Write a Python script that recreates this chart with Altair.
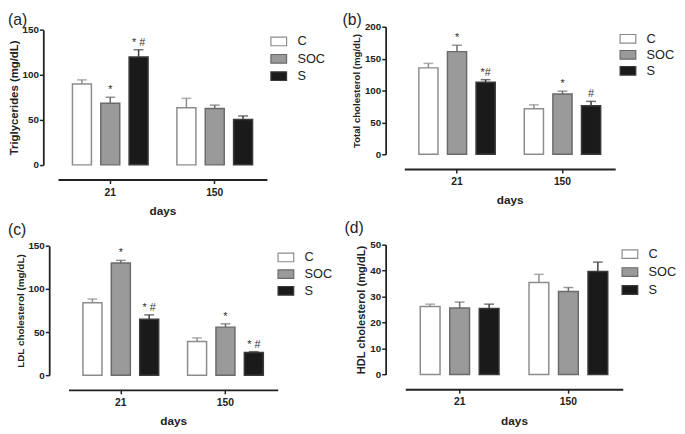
import altair as alt
import pandas as pd

groups = ["C", "SOC", "S"]
days = ["21", "150"]

# (a) Triglycerides
tg_mean_21 = [90, 68.6, 120]
tg_mean_150 = [63.5, 62.8, 50.4]
tg_err_21 = [4.5, 6.6, 8]
tg_err_150 = [10.5, 3.6, 4]
tg_sig_21 = ["", "*", "* #"]
tg_sig_150 = ["", "", ""]

# (b) Total cholesterol
tc_mean_21 = [135.5, 161, 113]
tc_mean_150 = [71.5, 94.5, 76]
tc_err_21 = [7, 10, 4]
tc_err_150 = [6, 4.5, 7]
tc_sig_21 = ["", "*", "*#"]
tc_sig_150 = ["", "*", "#"]

# (c) LDL cholesterol
ldl_mean_21 = [84, 130.3, 65]
ldl_mean_150 = [39, 55.8, 26.2]
ldl_err_21 = [4.5, 3, 5]
ldl_err_150 = [4.3, 3.8, 1.1]
ldl_sig_21 = ["", "*", "* #"]
ldl_sig_150 = ["", "*", "* #"]

# (d) HDL cholesterol
hdl_mean_21 = [26.2, 25.6, 25.4]
hdl_mean_150 = [35.4, 32, 39.7]
hdl_err_21 = [0.9, 2.3, 1.7]
hdl_err_150 = [3.2, 1.5, 3.6]
hdl_sig_21 = ["", "", ""]
hdl_sig_150 = ["", "", ""]

FILLS = ["#ffffff", "#9a9a9a", "#1a1a1a"]
STROKES = ["#8c8c8c", "#6a6a6a", "#3a3a3a"]
FONT = "Liberation Sans"
AX = "#222222"


def make_df(m21, m150, e21, e150, s21, s150):
    rows = []
    for d, ms, es, ss in [("21", m21, e21, s21), ("150", m150, e150, s150)]:
        for g, m, e, s in zip(groups, ms, es, ss):
            rows.append({"day": d, "group": g, "mean": m, "top": m + e, "sig": s})
    return pd.DataFrame(rows)


def panel(df, label, title_dx, title_offset, ytitle, ytitle_size, yvals, width, height,
          yrange, xrange, yoffset, legend_x, legend_y, row_pad):
    ymax = yvals[-1]
    x = alt.X("day:N", sort=days,
              scale=alt.Scale(domain=days, range=xrange, paddingInner=0.2, paddingOuter=0.1),
              axis=alt.Axis(title="days", offset=15, labelAngle=0, domainWidth=2,
                            domainColor=AX, tickColor=AX, tickWidth=1.5, tickSize=4,
                            labelFontSize=10.5, labelFontWeight="bold", labelColor=AX,
                            labelPadding=4, titleFontSize=12, titleFontWeight="bold",
                            titleColor=AX, titlePadding=8))
    xo = alt.XOffset("group:N", sort=groups,
                     scale=alt.Scale(domain=groups, paddingInner=0.33, paddingOuter=0.14))
    yscale = alt.Scale(domain=[0, ymax], range=yrange, nice=False, zero=True)
    yaxis = alt.Axis(values=yvals, grid=False, domainWidth=1.8, domainColor=AX,
                     tickColor=AX, tickWidth=1.5, tickSize=4, labelFontSize=10,
                     labelFontWeight="bold", labelColor=AX, labelPadding=1,
                     title=ytitle, titleFontSize=ytitle_size, titleFontWeight="bold",
                     titleColor=AX, titlePadding=3, offset=yoffset)
    base = alt.Chart(df)
    bars = base.mark_bar(strokeWidth=1.5).encode(
        x=x, xOffset=xo,
        y=alt.Y("mean:Q", scale=yscale, axis=yaxis),
        fill=alt.Fill("group:N", sort=groups,
                      scale=alt.Scale(domain=groups, range=FILLS),
                      legend=alt.Legend(title=None, orient="none", legendX=legend_x,
                                        legendY=legend_y,
                                        symbolType="M-1,-0.55H1V0.55H-1Z",
                                        symbolSize=256, symbolStrokeColor="#777777",
                                        symbolStrokeWidth=1.2, labelFontSize=13,
                                        labelFont=FONT, labelColor=AX, labelOffset=10,
                                        rowPadding=row_pad, padding=0)),
        stroke=alt.Stroke("group:N", sort=groups,
                          scale=alt.Scale(domain=groups, range=STROKES), legend=None),
    )
    err = base.mark_rule(strokeWidth=1.5).encode(
        x=x, xOffset=xo,
        y=alt.Y("mean:Q", scale=yscale, axis=yaxis), y2="top:Q",
        stroke=alt.Stroke("group:N", sort=groups,
                          scale=alt.Scale(domain=groups, range=STROKES), legend=None),
    )
    cap = base.mark_tick(thickness=1.5, size=10, orient="horizontal").encode(
        x=x, xOffset=xo,
        y=alt.Y("top:Q", scale=yscale, axis=yaxis),
        color=alt.Color("group:N", sort=groups,
                        scale=alt.Scale(domain=groups, range=STROKES), legend=None),
    )
    txt = base.mark_text(baseline="bottom", dy=-2, fontSize=11, color="#333333",
                         font=FONT).encode(
        x=x, xOffset=xo,
        y=alt.Y("top:Q", scale=yscale, axis=yaxis),
        text="sig:N",
    )
    return alt.layer(bars, err, cap, txt).properties(
        width=width, height=height,
        title=alt.TitleParams(label, anchor="start", frame="group", fontSize=16,
                              fontWeight="normal", font=FONT, color=AX, dx=title_dx,
                              offset=title_offset, baseline="top"),
    )


df_a = make_df(tg_mean_21, tg_mean_150, tg_err_21, tg_err_150, tg_sig_21, tg_sig_150)
df_b = make_df(tc_mean_21, tc_mean_150, tc_err_21, tc_err_150, tc_sig_21, tc_sig_150)
df_c = make_df(ldl_mean_21, ldl_mean_150, ldl_err_21, ldl_err_150, ldl_sig_21, ldl_sig_150)
df_d = make_df(hdl_mean_21, hdl_mean_150, hdl_err_21, hdl_err_150, hdl_sig_21, hdl_sig_150)

pa = panel(df_a, "(a)", -51, -3, "Triglycerides (mg/dL)", 11.6, [0, 50, 100, 150],
           224, 140.8, [140.8, 3.3], [0, 213], 15, 216, 6, 1.7)
pb = panel(df_b, "(b)", -63, -6.3, "Total cholesterol  (mg/dL)", 9.8, [0, 50, 100, 150, 200],
           223, 130, [130, 0], [0, 215], 19, 219, 3.3, 0.3)
pc = panel(df_c, "(c)", -51, 3, "LDL cholesterol (mg/dL)", 10.1, [0, 50, 100, 150],
           224, 133, [133, 1.3], [10.7, 224], 9, 223.3, 4, 1)
pd_ = panel(df_d, "(d)", -61, 3.7, "HDL cholesterol (mg/dL)", 11.3, [0, 10, 20, 30, 40, 50],
            223, 132.3, [132.3, 0], [1, 222.7], 19, 221, 0.6, 2.3)

res = dict(fill="independent", stroke="independent", color="independent",
           x="independent", y="independent", xOffset="independent")

chart = alt.concat(pa, pb, pc, pd_, columns=2, spacing={"row": 81.2, "column": 129},
                   bounds="flush").resolve_scale(**res).resolve_legend(
    fill="independent", stroke="independent", color="independent"
).properties(padding=0).configure(font=FONT).configure_view(stroke=None)

chart.save("out.html", embed_options={"renderer": "svg", "actions": False})
